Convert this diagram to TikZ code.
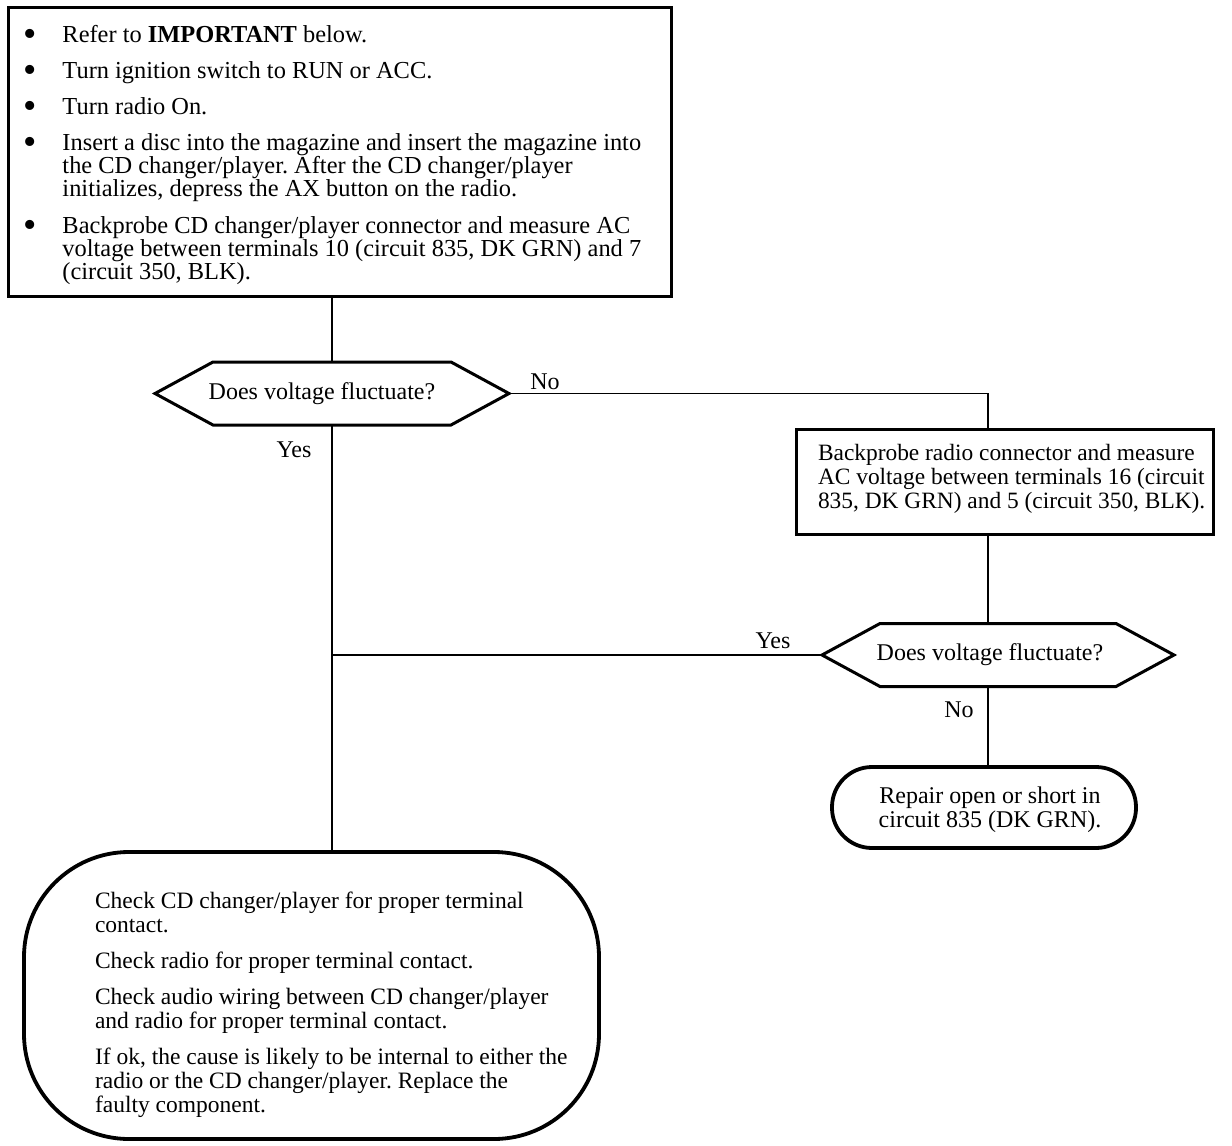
\documentclass[tikz,border=0pt]{standalone}
\usepackage{fontspec}
\setmainfont{Liberation Serif}
\newcommand{\itm}{\leavevmode\llap{\raisebox{-4pt}{\fontsize{38}{38}\selectfont •}\hspace{26pt}}}
\frenchspacing
\begin{document}
\frenchspacing
\begin{tikzpicture}[x=1pt,y=-1pt,
  every node/.style={font=\fontsize{24}{24}\selectfont, inner sep=0pt, outer sep=0pt},
  box/.style={draw, line width=3pt},
  term/.style={draw, line width=3.8pt},
  hexa/.style={minimum width=#1, minimum height=63pt},
  conn/.style={line width=1.5pt},
  lbl/.style={}
]
\useasboundingbox (0,0) rectangle (1232,1146);

% top box
\node[box, minimum width=663pt, minimum height=289pt] (top) at (340,152)
 {\parbox[t][289pt][t]{663pt}{\fontsize{24.4}{23}\selectfont\raggedright\leftskip=54pt\rightskip=-100pt plus 1fil
  \baselineskip=23pt\lineskiplimit=-100pt
  \rule{0pt}{34.5pt}\itm Refer to \textbf{IMPORTANT} below.\\[13pt]
  \itm Turn ignition switch to RUN or ACC.\\[13pt]
  \itm Turn radio On.\\[13pt]
  \itm Insert a disc into the magazine and insert the magazine into\\
  the CD changer/player. After the CD changer/player\\
  initializes, depress the AX button on the radio.\\[14pt]
  \itm Backprobe CD changer/player connector and measure AC\\
  voltage between terminals 10 (circuit 835, DK GRN) and 7\\
  (circuit 350, BLK).}};

% decision 1
\node[hexa=354pt] (d1) at (332,393.5) {\hspace*{-20pt}Does voltage fluctuate?};
\draw[box] (d1.west) -- ([xshift=58pt]d1.north west) -- ([xshift=-58pt]d1.north east)
  -- (d1.east) -- ([xshift=-58pt]d1.south east) -- ([xshift=58pt]d1.south west) -- cycle;

% box 2
\node[box, minimum width=417pt, minimum height=105pt] (b2) at (1004.5,481.5)
 {\parbox[t][105pt][t]{417pt}{\fontsize{23.4}{24}\selectfont\raggedright\leftskip=22pt\rightskip=-100pt plus 1fil
  \baselineskip=24pt\lineskiplimit=-100pt
  \rule{0pt}{31pt}Backprobe radio connector and measure\\
  AC voltage between terminals 16 (circuit\\
  835, DK GRN) and 5 (circuit 350, BLK).}};

% decision 2
\node[hexa=352pt] (d2) at (998,655) {\hspace*{-16pt}Does voltage fluctuate?};
\draw[box] (d2.west) -- ([xshift=58pt]d2.north west) -- ([xshift=-58pt]d2.north east)
  -- (d2.east) -- ([xshift=-58pt]d2.south east) -- ([xshift=58pt]d2.south west) -- cycle;

% terminal 2
\node[term, rounded corners=40pt, minimum width=304pt, minimum height=81pt] (t2) at (984,807.5)
 {\parbox[t][81pt][t]{304pt}{\centering\baselineskip=24pt\lineskiplimit=-100pt
  \rule{0pt}{36pt}\hspace*{12pt}Repair open or short in\\
  \hspace*{12pt}circuit 835 (DK GRN).}};

% terminal 1
\node[term, rounded corners=105pt, minimum width=575pt, minimum height=287pt] (t1) at (311.5,995.5)
 {\parbox[t][287pt][t]{575pt}{\fontsize{23.5}{24}\selectfont\raggedright\leftskip=71pt\rightskip=-100pt plus 1fil
  \baselineskip=24pt\lineskiplimit=-100pt
  \rule{0pt}{56pt}Check CD changer/player for proper terminal\\
  contact.\\[12pt]
  Check radio for proper terminal contact.\\[12pt]
  Check audio wiring between CD changer/player\\
  and radio for proper terminal contact.\\[12pt]
  If ok, the cause is likely to be internal to either the\\
  radio or the CD changer/player. Replace the\\
  faulty component.}};

% connectors
\coordinate (cn) at (988,393.5);
\draw[conn] (top.south -| d1.north) -- (d1.north);
\draw[conn] (d1.east) -- (cn) -- (cn |- b2.north);
\draw[conn] (cn |- b2.south) -- (cn |- d2.north);
\draw[conn] (d1.south) -- (d1.south |- t1.north);
\coordinate (j) at (d1.south |- d2.west);
\draw[conn] (d2.west) -- (j);
\draw[conn] (cn |- d2.south) -- (cn |- t2.north);

% labels
\node[lbl] (lno1) at (545,382) {No};
\node[lbl] (lyes1) at (294,450) {Yes};
\node[lbl] (lyes2) at (773,641) {Yes};
\node[lbl] (lno2) at (959,710) {No};
\end{tikzpicture}
\end{document}
